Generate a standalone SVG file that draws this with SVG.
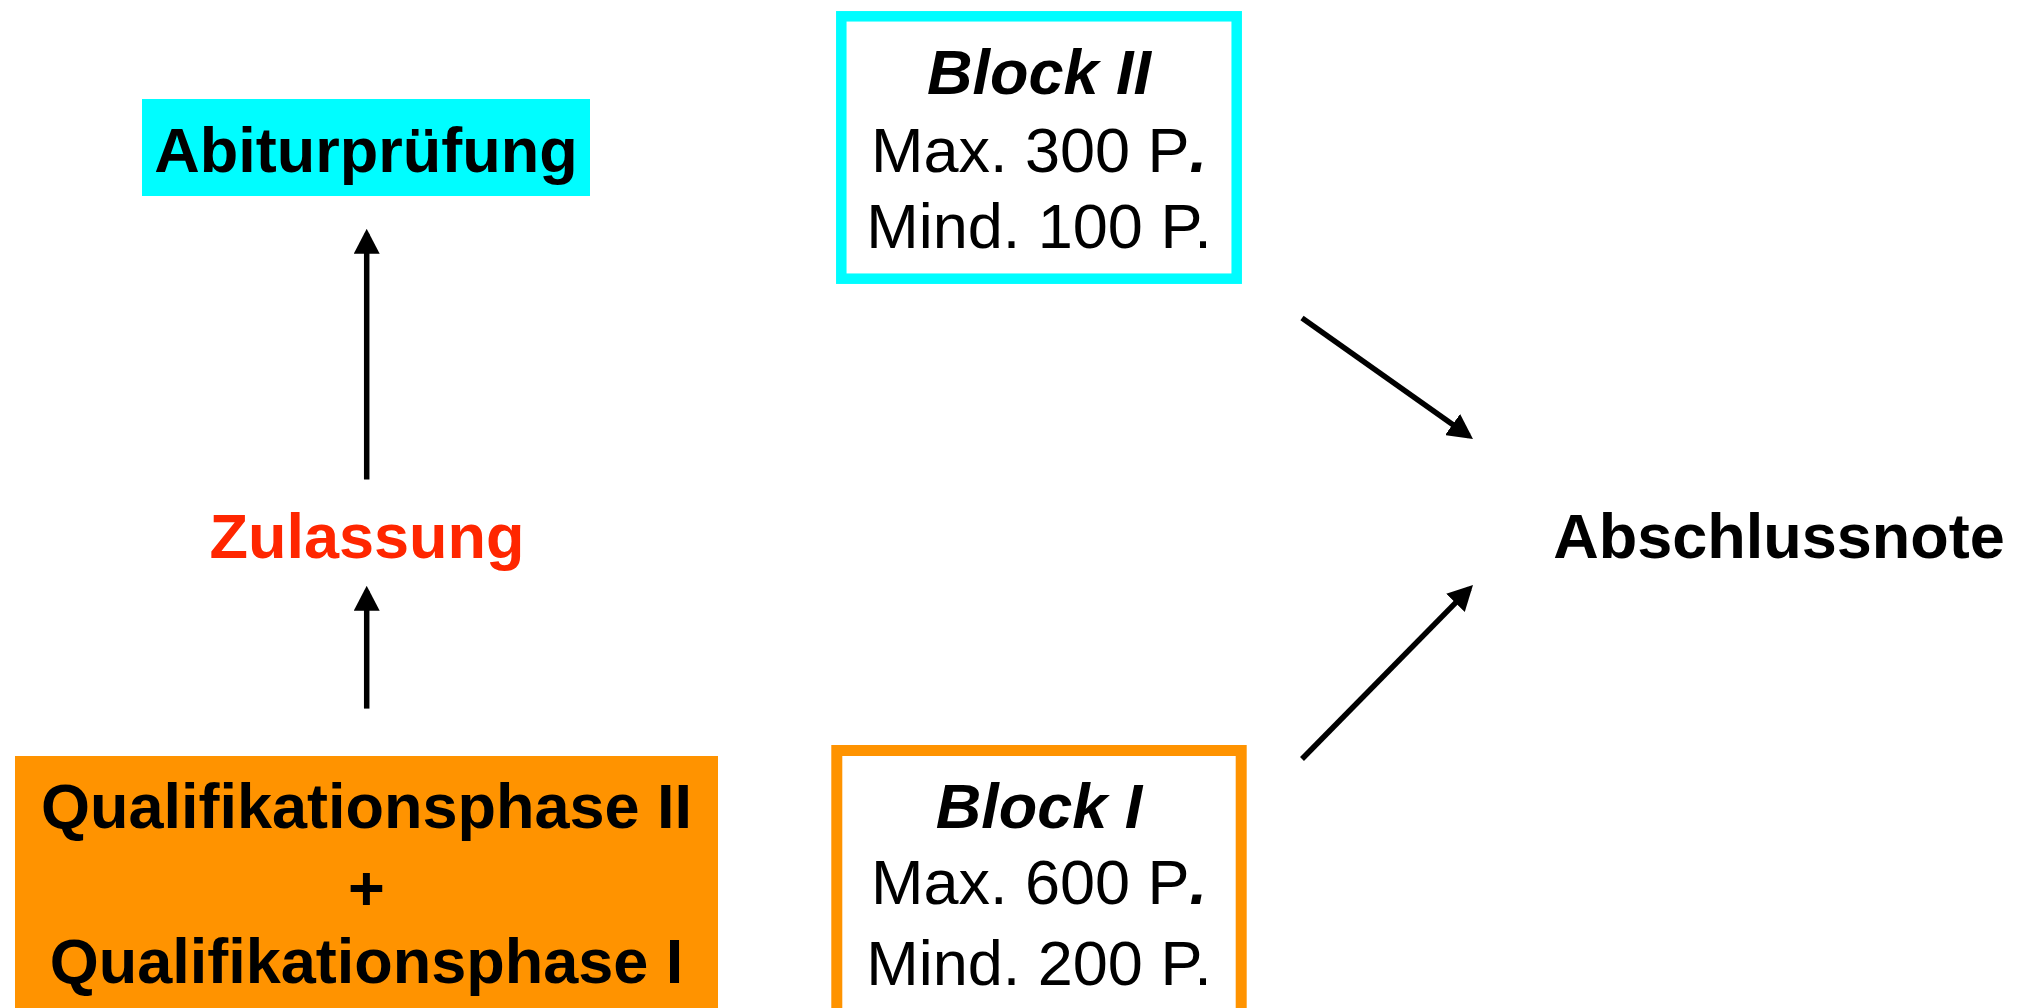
<svg xmlns="http://www.w3.org/2000/svg" width="2025" height="1008" viewBox="0 0 2025 1008">
<style>
  text { font-family: "Liberation Sans", Arial, sans-serif; font-size: 63px; fill: #000; text-anchor: middle; }
  .b { font-weight: bold; }
  .bi { font-weight: bold; font-style: italic; }
  .red { fill: #FF2600; }
  .conn line { stroke: #000; stroke-width: 5.5; }
</style>
<defs>
  <marker id="arr" viewBox="0 0 25 26" refX="20" refY="13" markerWidth="25" markerHeight="26" orient="auto" markerUnits="userSpaceOnUse">
    <path d="M0,0 L25,13 L0,26 z" fill="#000"/>
  </marker>
</defs>
<rect width="2025" height="1008" fill="#fff"/>

<g id="abiturpruefung">
  <rect x="142" y="99" width="448" height="97" fill="#00FDFF"/>
  <text class="b" x="366" y="171.5">Abiturprüfung</text>
</g>

<g id="zulassung">
  <text class="b red" x="367" y="558">Zulassung</text>
</g>

<g id="qualifikation">
  <rect x="15" y="756" width="703" height="260" fill="#FF9300"/>
  <text class="b" x="366.5" y="827.5">Qualifikationsphase II</text>
  <text class="b" x="366.5" y="910">+</text>
  <text class="b" x="366.5" y="982.5">Qualifikationsphase I</text>
</g>

<g id="block2">
  <rect x="841.3" y="16.3" width="395.4" height="262.4" fill="#fff" stroke="#00FDFF" stroke-width="10.5"/>
  <text class="bi" x="1039" y="94.3">Block II</text>
  <text x="1039" y="171.7">Max. 300 P<tspan class="bi">.</tspan></text>
  <text x="1039" y="248.3">Mind. 100 P.</text>
</g>

<g id="block1">
  <rect x="836.8" y="750.5" width="404.4" height="270" fill="#fff" stroke="#FF9300" stroke-width="11"/>
  <text class="bi" x="1039" y="827.7">Block I</text>
  <text x="1039" y="904.3">Max. 600 P<tspan class="bi">.</tspan></text>
  <text x="1039" y="985">Mind. 200 P.</text>
</g>

<g id="abschlussnote">
  <text class="b" x="1779" y="557.7">Abschlussnote</text>
</g>

<g class="conn" id="connectors">
  <line x1="366.7" y1="479.5" x2="366.7" y2="233.8" marker-end="url(#arr)"/>
  <line x1="366.7" y1="708.6" x2="366.7" y2="590.8" marker-end="url(#arr)"/>
  <line x1="1302" y1="318" x2="1468.9" y2="436.1" marker-end="url(#arr)"/>
  <line x1="1302" y1="759" x2="1469.5" y2="588.6" marker-end="url(#arr)"/>
</g>
</svg>
